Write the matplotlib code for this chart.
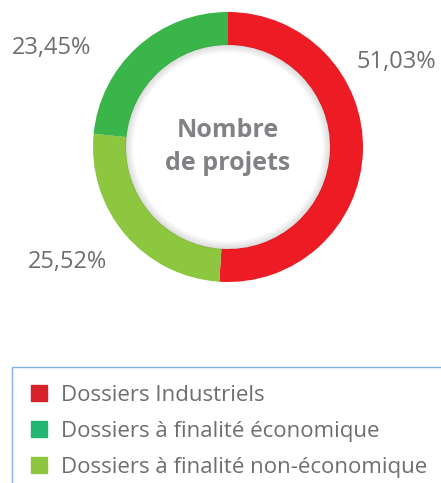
import matplotlib.pyplot as plt
from matplotlib.lines import Line2D
from matplotlib.patches import Rectangle, Circle

plt.rcParams['font.family'] = ['Open Sans', 'DejaVu Sans']

# Données
categories = ["Dossiers Industriels",
              "Dossiers à finalité économique",
              "Dossiers à finalité non-économique"]
parts = [51.03, 23.45, 25.52]
labels_pct = ["51,03%", "23,45%", "25,52%"]
couleurs_anneau = ["#ED1C24", "#39B54A", "#8DC63F"]
couleurs_legende = ["#D7222A", "#22B573", "#8DC63F"]

W, H = 441, 483
fig = plt.figure(figsize=(W / 100, H / 100), dpi=100)

# Anneau : centre (228, 147) px, rayon 135 px
cx, cy, r = 228, 147, 135
ax = fig.add_axes([(cx - r) / W, (H - cy - r) / H, 2 * r / W, 2 * r / H])

# ordre horaire : industriels, non-économique, économique
ordre = [0, 2, 1]
ax.pie([parts[i] for i in ordre],
       colors=[couleurs_anneau[i] for i in ordre],
       startangle=90, counterclock=False, radius=1,
       wedgeprops=dict(width=33 / 135, linewidth=0))

# ombre intérieure légère
r_int = 1 - 33 / 135
for k in range(10):
    ax.add_patch(Circle((0, 0), r_int - k * 0.006, fill=False,
                        edgecolor="#000000", linewidth=1.2,
                        alpha=0.07 * (1 - k / 10)))

ax.set_xlim(-1, 1)
ax.set_ylim(-1, 1)
ax.set_aspect("equal")
ax.axis("off")

ax.text(0, 0.0, "Nombre\nde projets", ha="center", va="center",
        fontsize=18, fontweight="bold", color="#808285", linespacing=1.4)

# étiquettes des pourcentages
pos_labels = [(1.25, 0.63), (-1.31, 0.73), (-1.19, -0.85)]
for (x, y), txt in zip(pos_labels, labels_pct):
    ax.text(x, y, txt, ha="center", va="center", fontsize=17,
            color="#6D6E71", clip_on=False)

# cadre de la légende (coupé à droite et en bas)
fig.patches.append(Rectangle((11.5 / W, -0.1), 1.0, (H - 367) / H + 0.1,
                             transform=fig.transFigure, fill=False,
                             edgecolor="#7FB2E5", linewidth=1.0))

handles = [Line2D([], [], marker="s", linestyle="none", markersize=11.5,
                  markerfacecolor=c, markeredgecolor=c)
           for c in couleurs_legende]
fig.legend(handles, categories, loc="upper left",
           bbox_to_anchor=(25.7 / W, (H - 385) / H), frameon=False,
           fontsize=16, labelcolor="#6D6E71", handlelength=1.2,
           handletextpad=0.4, labelspacing=0.68, borderpad=0,
           borderaxespad=0)

fig.savefig("out.png", dpi=100)
